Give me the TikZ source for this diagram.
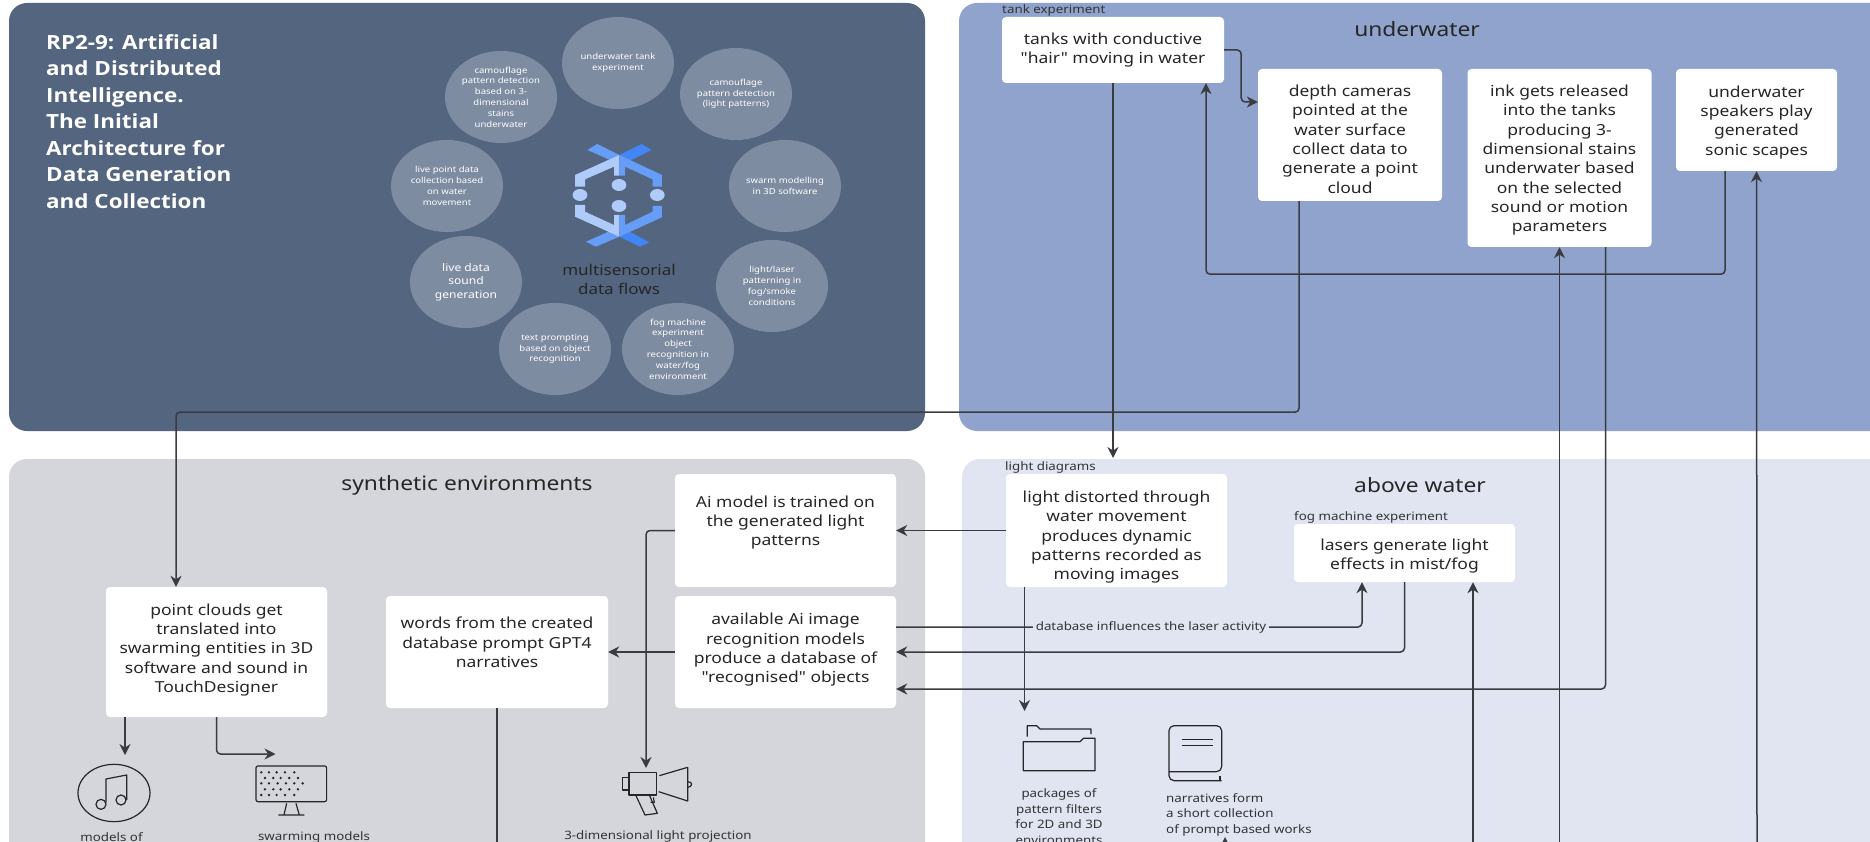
\documentclass[tikz,border=0pt]{standalone}
\usepackage{fontspec}
\setmainfont{Noto Sans}[FakeStretch=1.15, Ligatures=TeXOff]
\newfontfamily\titlefont{Open Sans}[FakeStretch=1.15, Ligatures=TeXOff]
\usetikzlibrary{arrows.meta, shapes.geometric}
\definecolor{darkpanel}{HTML}{54657F}
\definecolor{bluepanel}{HTML}{8FA3CD}
\definecolor{greypanel}{HTML}{D5D6DB}
\definecolor{palepanel}{HTML}{E1E5F2}
\definecolor{bubble}{HTML}{7E8CA1}
\definecolor{ink}{HTML}{3A3B40}
\definecolor{logolight}{HTML}{AECBFA}
\definecolor{logomid}{HTML}{669DF6}
\definecolor{logodark}{HTML}{4285F4}
\newcommand{\pushdown}[1]{\rule{0pt}{#1pt}}
\newcommand{\pushup}[1]{\rule[-#1pt]{0pt}{#1pt}}
\tikzset{
  panel/.style={rounded corners=18pt},
  bluebox/.style={fill=white, rounded corners=4pt, align=center, inner sep=0pt, text=black!85,
    font=\fontsize{15.2}{19.3}\selectfont},
  sectiontitle/.style={text=black!85, font=\fontsize{19.8}{24}\selectfont},
  smalllabel/.style={text=black!80, anchor=west, inner sep=0pt, font=\fontsize{11.6}{13}\selectfont},
  iconlabel/.style={text=black!80, align=center, inner sep=0pt, font=\fontsize{11.6}{15.5}\selectfont},
  bubblenode/.style={ellipse, fill=bubble, minimum width=112pt, minimum height=92pt, inner sep=0pt,
    align=center, text=white, font=\fontsize{8.3}{10.8}\selectfont},
  flowline/.style={ink, line width=1.5pt, rounded corners=4pt},
  flow/.style={flowline, -{Stealth[length=11pt,width=11pt]}},
  icon/.style={black!85, line width=1.2pt, line join=round}
}
\begin{document}
\begin{tikzpicture}[x=1pt,y=-1pt]
\useasboundingbox (0,0) rectangle (1870,842);
\clip (0,0) rectangle (1870,842);
\fill[white] (0,0) rectangle (1870,842);
\fill[panel, darkpanel] (9,3) rectangle (925,431);
\fill[panel, bluepanel] (959,3) rectangle (1900,431);
\fill[panel, greypanel] (9,459) rectangle (925,880);
\fill[panel, palepanel] (962,459) rectangle (1900,880);

\node[anchor=north west, align=left, inner sep=0pt, text=white, font=\fontsize{19.5}{26.5}\titlefont\bfseries] (maintitle) at (46,34)
  {RP2-9: Artificial\\and Distributed\\Intelligence.\\The Initial\\Architecture for\\Data Generation\\and Collection};

\node[bubblenode] (tankbubble) at (618,63) {underwater tank\\experiment};
\node[bubblenode] (lightbubble) at (736,94) {camouflage\\pattern detection\\(light patterns)};
\node[bubblenode] (swarmbubble) at (785,186) {swarm modelling\\in 3D software};
\node[bubblenode] (laserbubble) at (772,286) {light/laser\\patterning in\\fog/smoke\\conditions};
\node[bubblenode] (fogbubble) at (678,349) {fog machine\\experiment\\object\\recognition in\\water/fog\\environment};
\node[bubblenode] (textbubble) at (555,349) {text prompting\\based on object\\recognition};
\node[bubblenode, font=\fontsize{10.5}{13.3}\selectfont] (soundbubble) at (466,282) {live data\\sound\\generation};
\node[bubblenode] (pointbubble) at (447,186) {live point data\\collection based\\on water\\movement};
\node[bubblenode] (stainbubble) at (501,97) {camouflage\\pattern detection\\based on 3-\\dimensional\\stains\\underwater};

\begin{scope}[shift={(560,130)}, x=0.3333pt, y=-0.3333pt]
\fill[logomid] (82,60) -- (112,42) -- (178,75) -- (150,90) -- cycle;
\fill[logodark] (178,75) -- (245,42) -- (275,60) -- (205,95) -- cycle;
\fill[logomid] (178,320) -- (108,350) -- (78,335) -- (150,303) -- cycle;
\fill[logodark] (178,320) -- (240,350) -- (268,337) -- (205,303) -- cycle;
\fill[logolight] (178,75) -- (45,135) -- (45,170) -- (75,170) -- (75,148) -- (162,110) -- (162,137) -- (178,137) -- cycle;
\fill[logomid] (178,75) -- (306,135) -- (306,170) -- (278,170) -- (278,148) -- (195,110) -- (195,137) -- (178,137) -- cycle;
\fill[logolight] (178,320) -- (45,260) -- (45,225) -- (75,225) -- (75,245) -- (162,285) -- (162,255) -- (178,255) -- cycle;
\fill[logomid] (178,320) -- (306,262) -- (306,228) -- (278,228) -- (278,245) -- (195,285) -- (195,255) -- (178,255) -- cycle;
\foreach \dotx/\doty in {60/195, 292/195, 177/165, 177/228}
  \fill[logolight] (\dotx,\doty) ellipse (22 and 18);
\end{scope}
\node[align=center, inner sep=0pt, text=black!85, font=\fontsize{14.8}{19}\selectfont] (logolabel) at (619,279) {multisensorial\\data flows};

\node[sectiontitle] (underwatertitle) at (1417,29) {underwater};
\node[sectiontitle] (synthetictitle) at (467,485) {synthetic environments};
\node[sectiontitle] (abovetitle) at (1420,485) {above water};

\node[smalllabel] (tanklabel) at (1002,10) {tank experiment};
\node[smalllabel] (lightlabel) at (1005,467) {light diagrams};
\node[smalllabel] (foglabel) at (1294,517) {fog machine experiment};

\node[bluebox, minimum width=222pt, minimum height=66pt] (tankbox) at (1113,50) {tanks with conductive\\"hair" moving in water};
\node[bluebox, minimum width=184pt, minimum height=132pt] (depthbox) at (1350,135) {\pushdown{20}depth cameras\\pointed at the\\water surface\\collect data to\\generate a point\\cloud};
\node[bluebox, minimum width=184pt, minimum height=178pt] (inkbox) at (1559.5,158) {\pushdown{16}ink gets released\\into the tanks\\producing 3-\\dimensional stains\\underwater based\\on the selected\\sound or motion\\parameters};
\node[bluebox, minimum width=161pt, minimum height=102pt] (speakersbox) at (1756.5,120) {\pushdown{16}underwater\\speakers play\\generated\\sonic scapes};
\node[bluebox, minimum width=221pt, minimum height=113pt] (lightbox) at (1116.5,530.5) {\pushdown{25}light distorted through\\water movement\\produces dynamic\\patterns recorded as\\moving images};
\node[bluebox, minimum width=221pt, minimum height=58pt] (laserbox) at (1404.5,553) {\pushdown{18}lasers generate light\\effects in mist/fog};
\node[bluebox, minimum width=221pt, minimum height=113pt] (aibox) at (785.5,530.5) {Ai model is trained on\\the generated light\\patterns\\~};
\node[bluebox, minimum width=221pt, minimum height=112pt] (availbox) at (785.5,652) {available Ai image\\recognition models\\produce a database of\\"recognised" objects\pushup{8}};
\node[bluebox, minimum width=222pt, minimum height=112pt] (wordsbox) at (497,652) {words from the created\\database prompt GPT4\\narratives\\~};
\node[bluebox, minimum width=221pt, minimum height=130pt] (cloudbox) at (216.5,652) {point clouds get\\translated into\\swarming entities in 3D\\software and sound in\\TouchDesigner\pushup{8}};

\node[iconlabel] (musiclabel) at (111.5,837) {models of};
\node[iconlabel] (swarmlabel) at (314,837) {swarming models};
\node[iconlabel] (projectionlabel) at (658,836) {3-dimensional light projection};
\node[iconlabel] (packagelabel) at (1059,816.5) {packages of\\pattern filters\\for 2D and 3D\\environments};
\node[iconlabel, align=left, anchor=west] (narrativelabel) at (1166,814.5) {narratives form\\a short collection\\of prompt based works};

\coordinate (lighttip) at (1113,458);
\coordinate (cameratip) at (646,768);
\coordinate (musictip) at (125,755);
\coordinate (swarmtip) at (275.5,754);
\coordinate (foldertip) at (1024.5,711);
\coordinate (booktip) at (1225,837);
\coordinate (bookend) at (1225,860);
\coordinate (inkin) at (1559.5,850);
\coordinate (speakerin) at (1757,850);
\coordinate (fogin) at (1473,850);
\coordinate (wordsout) at (497,850);

\draw[flow] (tankbox.south) -- (lighttip);
\draw[flow] (tankbox.east) -- ++(17,0) |- ([yshift=33pt]depthbox.west);
\draw[flow] ([xshift=-31.5pt]speakersbox.south) -- ++(0,103) -| ([xshift=93pt]tankbox.south);
\draw[flow] ([xshift=-51pt]depthbox.south) -- ++(0,211) -| ([xshift=-40.5pt]cloudbox.north);
\draw[flow] (inkin) -- (inkbox.south);
\draw[flow] (speakerin) -- (speakersbox.south);
\draw[flow] (fogin) -- ([xshift=68.5pt]laserbox.south);
\draw[flow] ([xshift=46pt]inkbox.south) |- ([yshift=-37pt]availbox.east);
\draw[flow] (laserbox.south) |- (availbox.east);
\draw[flow] ([yshift=25pt]availbox.east) -| ([xshift=-42.5pt]laserbox.south);
\draw[flow] (lightbox.west) -- (aibox.east);
\draw[flow] (availbox.west) -- (wordsbox.east);
\draw[flow] (aibox.west) -| (cameratip);
\draw[flowline] (wordsbox.south) -- (wordsout);
\draw[flow] ([xshift=-91.5pt]cloudbox.south) -- (musictip);
\draw[flow] (cloudbox.south) |- (swarmtip);
\draw[flow] ([xshift=-92pt]lightbox.south) -- (foldertip);
\draw[flow] (bookend) -- (booktip);
\node[fill=palepanel, inner xsep=3pt, inner ysep=1pt, text=black!80, font=\fontsize{11.6}{13}\selectfont] (databaselabel) at (1151,627) {database influences the laser activity};

\begin{scope}[shift={(60,720)}, x=0.3333pt, y=-0.3333pt]
\draw[icon] (162,219) ellipse (108 and 86);
\draw[icon] (123,253) circle (15);
\draw[icon] (183,240) circle (15);
\draw[icon] (138,248) -- (138,177) -- (200,165) -- (200,240);
\draw[icon, rounded corners=2pt] (588,138) rectangle (800,245);
\foreach \dotx in {604,627,650,675,703} {
  \fill[black!85] (\dotx,157) circle (4);
  \fill[black!85] (\dotx,225) circle (4);
}
\foreach \dotx in {615,640,662,688,714} {
  \fill[black!85] (\dotx,174) circle (4);
  \fill[black!85] (\dotx,208) circle (4);
}
\foreach \dotx in {604,627,653,678,703,728}
  \fill[black!85] (\dotx,190) circle (4);
\draw[icon] (680,250) -- (672,285) (708,250) -- (718,285) (655,285) -- (733,285);
\end{scope}

\begin{scope}[shift={(560,740)}, x=0.3333pt, y=-0.3333pt]
\draw[icon] (207,98) rectangle (290,165);
\draw[icon] (207,113) -- (187,113) -- (187,150) -- (207,150);
\draw[icon] (298,107) -- (383,82) -- (383,183) -- (296,155);
\draw[icon] (383,125) .. controls (399,125) and (399,140) .. (383,142);
\draw[icon] (227,165) -- (255,225) -- (292,220) -- (268,165);
\draw[icon] (280,172) -- (283,187) -- (272,187);
\end{scope}

\begin{scope}[shift={(1000,700)}, x=0.3333pt, y=-0.3333pt]
\draw[icon] (82,110) -- (82,77) -- (110,77) -- (120,87) -- (273,87) -- (273,102);
\draw[icon] (70,125) -- (70,212) -- (285,212) -- (285,115) -- (250,115) -- (240,125) -- cycle;
\draw[icon, rounded corners=5pt] (665,242) -- (507,242) -- (507,77) -- (665,77) -- (665,215) -- (507,215);
\draw[icon] (545,118) -- (640,118) (545,137) -- (640,137) (660,228) -- (660,242);
\end{scope}
\end{tikzpicture}
\end{document}
